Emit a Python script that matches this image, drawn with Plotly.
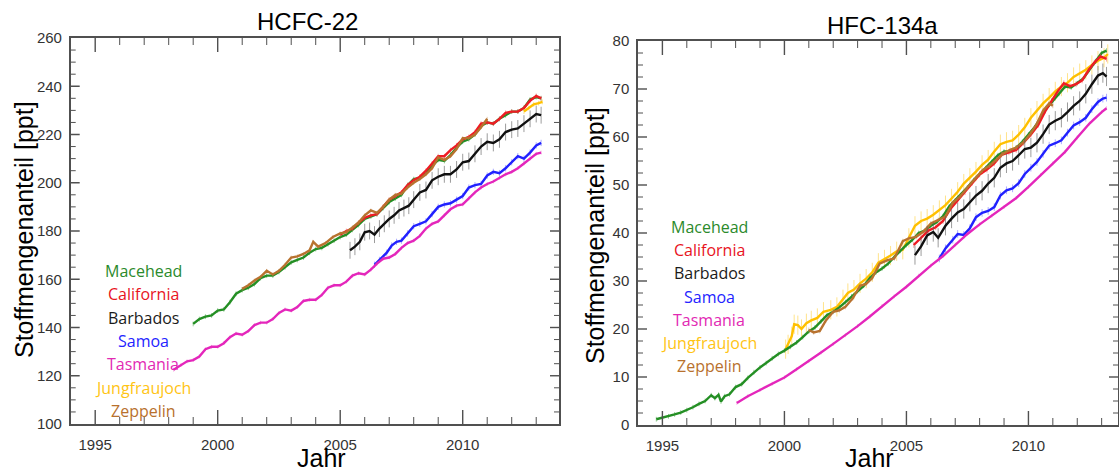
import plotly.graph_objects as go

# ---------------- HCFC-22 (ppt) : (year, value) ----------------
hcfc_macehead = [(1999.0,141.5),(1999.25,143.5),(1999.5,144.5),(1999.75,145),(2000.0,147),(2000.25,147.5),
    (2000.5,150.5),(2000.75,154),(2001.0,155.5),(2001.25,156.5),(2001.5,158),(2001.75,160.5),(2002.0,161.5),
    (2002.25,161.5),(2002.5,163),(2002.75,165),(2003.0,167),(2003.25,168),(2003.5,169),(2003.75,171),
    (2004.0,172.5),(2004.25,173),(2004.5,174.5),(2004.75,176),(2005.0,177.5),(2005.25,178.5),(2005.5,180.5),
    (2005.75,182.5),(2006.0,185),(2006.25,186),(2006.5,187),(2006.75,189.5),(2007.0,192),(2007.25,193.5),
    (2007.5,195),(2007.75,199),(2008.0,201.5),(2008.25,202),(2008.5,204),(2008.75,207),(2009.0,209.5),
    (2009.25,209),(2009.5,211.5),(2009.75,214.5),(2010.0,217),(2010.25,218),(2010.5,220),(2010.75,223.5),
    (2011.0,225),(2011.25,224.5),(2011.5,226.5),(2011.75,228),(2012.0,229.5),(2012.25,229.5),(2012.5,231),
    (2012.75,234.5),(2013.0,235.5),(2013.2,235)]
hcfc_california = [(2005.0,178.5),(2005.25,180),(2005.5,181),(2005.75,183.5),(2006.0,185.5),(2006.25,186.5),
    (2006.5,187),(2006.75,190),(2007.0,193),(2007.25,194.5),(2007.5,196),(2007.75,199),(2008.0,201),
    (2008.25,202.5),(2008.5,205),(2008.75,208),(2009.0,211),(2009.25,211),(2009.5,213.5),(2009.75,215.5),
    (2010.0,218),(2010.25,219),(2010.5,221),(2010.75,224.5),(2011.0,225),(2011.25,224.5),(2011.5,226.5),
    (2011.75,229),(2012.0,229.5),(2012.25,229.5),(2012.5,231),(2012.75,234),(2013.0,236),(2013.2,235)]
hcfc_barbados = [(2005.4,172),(2005.6,173.5),(2005.8,175.5),(2006.0,179.5),(2006.2,180),(2006.4,178.5),
    (2006.6,181),(2006.8,183),(2007.0,185),(2007.2,186.5),(2007.4,188.5),(2007.6,189.5),(2007.8,190.5),
    (2008.0,193),(2008.25,196),(2008.5,197),(2008.75,201),(2009.0,202.5),(2009.25,203.5),(2009.5,203.5),
    (2009.75,205.5),(2010.0,208.5),(2010.25,209),(2010.5,212),(2010.75,215),(2011.0,217),(2011.25,216.5),
    (2011.5,218),(2011.75,221),(2012.0,222),(2012.25,222.5),(2012.5,224.5),(2012.75,226.5),(2013.0,228.5),
    (2013.2,228)]
hcfc_samoa = [(2006.4,166),(2006.6,168),(2006.9,171),(2007.1,174),(2007.3,175.5),(2007.5,176),(2007.75,179),
    (2008.0,182),(2008.25,183),(2008.5,184),(2008.75,187),(2009.0,190),(2009.25,191),(2009.5,191.5),
    (2009.75,193),(2010.0,194.5),(2010.25,198),(2010.5,199),(2010.75,199.5),(2011.0,203),(2011.25,204.5),
    (2011.5,204),(2011.75,206),(2012.0,208.5),(2012.25,211),(2012.5,210),(2012.75,212.5),(2013.0,215.5),
    (2013.2,216.5)]
hcfc_tasmania = [(1998.2,122.5),(1998.5,124.5),(1998.75,126),(1999.0,126.5),(1999.25,128),(1999.5,131),
    (1999.75,132),(2000.0,132),(2000.25,133.5),(2000.5,136),(2000.75,137.5),(2001.0,137),(2001.25,138.5),
    (2001.5,141),(2001.75,142),(2002.0,142),(2002.25,143.5),(2002.5,146),(2002.75,147.5),(2003.0,147),
    (2003.25,148.5),(2003.5,151),(2003.75,151.5),(2004.0,151.5),(2004.25,153.5),(2004.5,156.5),
    (2004.75,157.5),(2005.0,157.5),(2005.25,159),(2005.5,161.5),(2005.75,162.5),(2006.0,162),(2006.25,164),
    (2006.5,166.5),(2006.75,168.5),(2007.0,169),(2007.25,170.5),(2007.5,173),(2007.75,175),(2008.0,176),
    (2008.25,178),(2008.5,181),(2008.75,183),(2009.0,184),(2009.25,186.5),(2009.5,189),(2009.75,190.5),
    (2010.0,191),(2010.25,193.5),(2010.5,196),(2010.75,198),(2011.0,199.5),(2011.25,200.5),(2011.5,202),
    (2011.75,203.5),(2012.0,204.5),(2012.25,206),(2012.5,208),(2012.75,210),(2013.0,212),(2013.2,212.5)]
hcfc_jungfraujoch = [(2012.5,229.5),(2012.7,231),(2012.9,232.5),(2013.1,233),(2013.25,233.5)]
hcfc_zeppelin = [(2001.0,156),(2001.25,157.5),(2001.5,159.5),(2001.75,161),(2002.0,163.5),(2002.25,162),
    (2002.5,163.5),(2002.75,166),(2003.0,169),(2003.25,169.5),(2003.5,170.5),(2003.75,172),(2003.9,175.5),
    (2004.1,173.5),(2004.4,175),(2004.7,177.5),(2005.0,179),(2005.25,179.5),(2005.5,181.5),(2005.75,183.5),
    (2006.0,186.5),(2006.25,188.5),(2006.5,187.5),(2006.75,190),(2007.0,193),(2007.25,195),(2007.5,195.5),
    (2007.75,198),(2008.0,200),(2008.25,201.5),(2008.5,203.5),(2008.75,206),(2009.0,210.5),(2009.25,209.5),
    (2009.5,211),(2009.75,214),(2010.0,218.5),(2010.25,218.5),(2010.5,220),(2010.75,223),(2011.0,226.5)]

# ---------------- HFC-134a (ppt) : (year, value) ----------------
hfc_macehead = [(1994.75,1.2),(1995.0,1.5),(1995.25,1.8),(1995.5,2.2),(1995.75,2.6),(1996.0,3.1),(1996.25,3.7),
    (1996.5,4.4),(1996.75,5.0),(1997.0,6.2),(1997.15,5.6),(1997.3,6.3),(1997.4,4.9),(1997.55,6.0),(1997.75,6.4),
    (1998.0,7.9),(1998.25,8.5),(1998.5,9.8),(1998.75,11.0),(1999.0,12.0),(1999.25,12.9),(1999.5,13.9),
    (1999.75,14.8),(2000.0,15.5),(2000.25,16.3),(2000.5,17.2),(2000.75,18.3),(2001.0,19.5),(2001.25,20.3),
    (2001.5,21.6),(2001.75,22.9),(2002.0,23.6),(2002.25,24.5),(2002.5,25.6),(2002.75,26.8),(2003.0,27.9),
    (2003.25,29.0),(2003.5,30.6),(2003.75,31.8),(2004.0,32.6),(2004.25,33.6),(2004.5,35.0),(2004.75,36.3),
    (2005.0,37.5),(2005.25,38.6),(2005.5,40.0),(2005.75,40.5),(2006.0,41.5),(2006.25,42.3),(2006.5,43.5),
    (2006.75,45.5),(2007.0,46.8),(2007.25,48.0),(2007.5,49.5),(2007.75,51.0),(2008.0,52.3),(2008.25,53.5),
    (2008.5,54.8),(2008.75,56.2),(2009.0,57.0),(2009.25,57.0),(2009.5,57.8),(2009.75,59.0),(2010.0,60.5),
    (2010.25,62.0),(2010.5,64.0),(2010.75,66.0),(2011.0,67.5),(2011.25,69.0),(2011.5,70.5),(2011.75,70.3),
    (2012.0,71.2),(2012.25,72.2),(2012.5,74.0),(2012.75,75.8),(2013.0,77.5),(2013.2,78.0)]
hfc_california = [(2005.3,37.5),(2005.6,39.0),(2005.9,40.5),(2006.2,41.2),(2006.5,42.5),(2006.8,45.0),
    (2007.1,46.8),(2007.4,48.5),(2007.7,50.5),(2008.0,52.2),(2008.3,53.2),(2008.6,54.5),(2008.9,56.3),
    (2009.2,56.8),(2009.5,57.3),(2009.8,58.8),(2010.1,60.5),(2010.4,62.5),(2010.7,65.5),(2010.95,67.5),
    (2011.2,69.5),(2011.45,71.2),(2011.7,70.6),(2011.95,71.0),(2012.2,71.8),(2012.45,73.8),(2012.7,75.5),
    (2012.95,76.8),(2013.2,76.3)]
hfc_barbados = [(2005.35,35.4),(2005.6,37.2),(2005.85,39.5),(2006.1,40.2),(2006.3,39.0),(2006.6,41.5),
    (2006.85,43.0),(2007.1,44.3),(2007.35,45.0),(2007.6,46.5),(2007.85,47.8),(2008.1,48.8),(2008.35,50.3),
    (2008.6,51.5),(2008.85,53.6),(2009.1,54.5),(2009.35,55.0),(2009.6,56.2),(2009.85,57.5),(2010.1,57.8),
    (2010.35,58.8),(2010.6,60.6),(2010.85,62.6),(2011.1,63.4),(2011.35,64.0),(2011.6,65.2),(2011.85,66.5),
    (2012.1,67.5),(2012.35,69.0),(2012.6,71.0),(2012.85,72.8),(2013.05,73.3),(2013.2,72.6)]
hfc_samoa = [(2006.35,34.7),(2006.6,36.8),(2006.9,38.6),(2007.1,39.8),(2007.35,39.6),(2007.6,41.0),
    (2007.85,43.3),(2008.1,44.2),(2008.35,44.6),(2008.6,45.4),(2008.85,47.8),(2009.1,48.9),(2009.35,49.3),
    (2009.6,50.4),(2009.85,52.3),(2010.1,53.6),(2010.35,54.8),(2010.6,56.5),(2010.85,58.2),(2011.1,58.7),
    (2011.35,59.3),(2011.6,60.9),(2011.85,62.4),(2012.1,63.1),(2012.35,64.0),(2012.6,65.8),(2012.85,67.3),
    (2013.05,68.0),(2013.2,68.2)]
hfc_tasmania = [(1998.05,4.6),(1998.5,6.0),(1999.0,7.3),(1999.5,8.6),(2000.0,9.9),(2000.5,11.6),(2001.0,13.3),
    (2001.5,15.1),(2002.0,16.9),(2002.5,18.7),(2003.0,20.6),(2003.5,22.6),(2004.0,24.8),(2004.5,26.8),
    (2005.0,28.8),(2005.5,31.1),(2006.0,33.2),(2006.5,35.2),(2007.0,37.6),(2007.5,39.8),(2008.0,41.8),
    (2008.5,43.6),(2009.0,45.4),(2009.5,47.3),(2010.0,49.6),(2010.5,52.1),(2011.0,54.5),(2011.5,56.9),
    (2012.0,59.9),(2012.5,62.8),(2013.0,65.2),(2013.2,66.0)]
hfc_jungfraujoch = [(2000.05,15.8),(2000.15,16.8),(2000.3,18.5),(2000.4,21.0),(2000.55,20.8),(2000.7,20.0),
    (2000.9,21.2),(2001.1,21.8),(2001.35,22.3),(2001.6,23.6),(2001.9,24.0),(2002.15,24.6),(2002.4,26.2),
    (2002.6,27.5),(2002.85,28.2),(2003.1,29.5),(2003.35,30.5),(2003.6,31.8),(2003.85,33.8),(2004.1,34.5),
    (2004.35,35.3),(2004.6,36.2),(2004.85,36.5),(2005.1,39.0),(2005.35,41.5),(2005.6,42.5),(2005.85,43.0),
    (2006.1,43.8),(2006.35,44.8),(2006.6,45.8),(2006.85,47.2),(2007.1,48.6),(2007.35,50.3),(2007.6,51.5),
    (2007.85,52.8),(2008.1,54.2),(2008.35,55.3),(2008.6,57.0),(2008.85,58.5),(2009.1,59.0),(2009.35,59.3),
    (2009.6,60.5),(2009.85,62.0),(2010.1,64.0),(2010.35,65.5),(2010.6,67.0),(2010.85,68.2),(2011.1,69.5),
    (2011.35,70.5),(2011.6,71.3),(2011.85,72.5),(2012.1,73.3),(2012.35,74.0),(2012.6,75.0),(2012.85,75.9),
    (2013.1,76.5),(2013.25,77.3)]
hfc_zeppelin = [(2001.0,19.8),(2001.2,19.3),(2001.45,19.6),(2001.7,21.8),(2002.0,23.6),(2002.25,23.9),
    (2002.5,24.6),(2002.8,26.4),(2003.1,29.0),(2003.35,29.4),(2003.6,30.6),(2003.9,33.6),(2004.2,34.3),
    (2004.5,34.7),(2004.85,38.3),(2005.1,38.9),(2005.4,39.2),(2005.7,40.3),(2006.0,42.0),(2006.3,42.7),
    (2006.6,43.4),(2006.9,46.3),(2007.2,47.6),(2007.5,49.5),(2007.8,51.2),(2008.1,53.0),(2008.4,54.0),
    (2008.7,55.3),(2008.95,56.5),(2009.25,57.3),(2009.5,57.8),(2009.8,58.9),(2010.1,60.8),(2010.35,62.8),
    (2010.6,65.5),(2010.85,67.0),(2011.0,66.5)]

station_names = ["Macehead", "California", "Barbados", "Samoa", "Tasmania", "Jungfraujoch", "Zeppelin"]
station_colors = ["#248f24", "#ee1c24", "#111111", "#2121ff", "#e426bb", "#ffc000", "#b8722f"]
label_colors = ["#2b8a2b", "#e8141e", "#1a1a1a", "#2424ff", "#e229b3", "#ffc414", "#b8712e"]
error_colors = ["rgba(60,160,60,0.5)", "rgba(240,80,80,0.5)", "rgba(90,90,90,0.6)", "rgba(90,90,255,0.5)",
                "rgba(235,110,200,0.5)", "rgba(255,215,90,0.7)", "rgba(200,150,100,0.5)"]

hcfc_series = [hcfc_macehead, hcfc_california, hcfc_barbados, hcfc_samoa, hcfc_tasmania, hcfc_jungfraujoch, hcfc_zeppelin]
hfc_series = [hfc_macehead, hfc_california, hfc_barbados, hfc_samoa, hfc_tasmania, hfc_jungfraujoch, hfc_zeppelin]
hcfc_err = [1.0, 1.0, 3.5, 1.3, 0.8, 1.0, 0.8]
hfc_err = [0.5, 0.6, 2.0, 0.8, 0.4, 2.0, 0.5]

# axis ranges and tick spacing
L_XR, L_YR, L_YSTEP = [1994, 2013.93], [100, 260], 20
R_XR, R_YR, R_YSTEP = [1994, 2013.67], [0, 80], 10

W, H = 1119, 474
L_PX = (70.7, 559, 38, 424)    # left, right, top, bottom of the left plot box (pixels)
R_PX = (638, 1118, 41, 425)

# draw order (last on top)
order_hcfc = [0, 1, 6, 2, 3, 4, 5]
order_hfc = [5, 0, 1, 6, 2, 3, 4]

fig = go.Figure()

def add(series, idx, err, xa, ya):
    xs = [p[0] for p in series]
    ys = [p[1] for p in series]
    fig.add_trace(go.Scatter(
        x=xs, y=ys, mode="lines", xaxis=xa, yaxis=ya, name=station_names[idx],
        line=dict(color=station_colors[idx], width=2.4),
        error_y=dict(type="constant", value=err, color=error_colors[idx], thickness=1, width=0),
    ))

for i in order_hcfc:
    add(hcfc_series[i], i, hcfc_err[i], "x", "y")
for i in order_hfc:
    add(hfc_series[i], i, hfc_err[i], "x2", "y2")

axcol = "#505050"

# inward frame ticks on all four sides, as short line segments derived from the axis ranges
def frame_ticks(xr, yr, ystep, box, xa, ya):
    left, right, top, bottom = box
    ux = (xr[1] - xr[0]) / (right - left)      # data units per pixel (x)
    uy = (yr[1] - yr[0]) / (bottom - top)      # data units per pixel (y)
    years = list(range(int(xr[0]) + 1, int(xr[1]) + 1))
    q = ystep / 4
    yvals = [yr[0] + k * q for k in range(1, int(round((yr[1] - yr[0]) / q)))]
    for major, width in ((True, 1.4), (False, 1.0)):
        xs, ys = [], []
        xl = 14 if major else 7
        yl = 9 if major else 5
        for v in years:
            if (v % 5 == 0) != major:
                continue
            xs += [v, v, None, v, v, None]
            ys += [yr[0], yr[0] + xl * uy, None, yr[1], yr[1] - xl * uy, None]
        for v in yvals:
            if (abs((v - yr[0]) % ystep) < 1e-9) != major:
                continue
            xs += [xr[0], xr[0] + yl * ux, None, xr[1], xr[1] - yl * ux, None]
            ys += [v, v, None, v, v, None]
        fig.add_trace(go.Scatter(x=xs, y=ys, xaxis=xa, yaxis=ya, mode="lines", hoverinfo="skip",
                                 connectgaps=False, line=dict(color=axcol, width=width)))

frame_ticks(L_XR, L_YR, L_YSTEP, L_PX, "x", "y")
frame_ticks(R_XR, R_YR, R_YSTEP, R_PX, "x2", "y2")

tickfont = dict(family="Liberation Sans, Arial", size=15, color="#333333")

def xax(domain, rng, anchor):
    return dict(domain=domain, range=rng, tickmode="linear", tick0=1995, dtick=5, ticks="",
                showline=True, linecolor=axcol, linewidth=1.5, mirror=True, showgrid=False, zeroline=False,
                tickfont=tickfont, anchor=anchor, ticklabelstandoff=6)

def yax(domain, rng, dt, anchor):
    return dict(domain=domain, range=rng, tickmode="linear", tick0=0, dtick=dt, ticks="",
                showline=True, linecolor=axcol, linewidth=1.5, mirror=True, showgrid=False, zeroline=False,
                tickfont=tickfont, anchor=anchor, ticklabelstandoff=4)

fig.update_layout(
    width=W, height=H, margin=dict(l=0, r=0, t=0, b=0), template="none", showlegend=False,
    paper_bgcolor="white", plot_bgcolor="white",
    xaxis=xax([L_PX[0] / W, L_PX[1] / W], L_XR, "y"),
    yaxis=yax([1 - L_PX[3] / H, 1 - L_PX[2] / H], L_YR, L_YSTEP, "x"),
    xaxis2=xax([R_PX[0] / W, R_PX[1] / W], R_XR, "y2"),
    yaxis2=yax([1 - R_PX[3] / H, 1 - R_PX[2] / H], R_YR, R_YSTEP, "x2"),
)

ann = []
def txt(x, y, s, size, color="black", angle=0, family="Liberation Sans, Arial", yanchor="middle"):
    ann.append(dict(x=x / W, y=1 - y / H, xref="paper", yref="paper", text=s, showarrow=False,
                    font=dict(family=family, size=size, color=color), textangle=angle,
                    xanchor="center", yanchor=yanchor))

txt(307, 21, "HCFC-22", 24)
txt(882, 25, "HFC-134a", 24)
txt(24, 230, "Stoffmengenanteil [ppt]", 25, angle=-90)
txt(595, 235, "Stoffmengenanteil [ppt]", 25, angle=-90)
txt(321, 474, "Jahr", 25, yanchor="bottom")
txt(869, 474, "Jahr", 25, yanchor="bottom")

for k, name in enumerate(station_names):
    txt(143, 271 + 23.3 * k, name, 16, color=label_colors[k], family="Open Sans")
    txt(709, 227 + 23.2 * k, name, 16, color=label_colors[k], family="Open Sans")

fig.update_layout(annotations=ann)
fig.write_html("out.html")
